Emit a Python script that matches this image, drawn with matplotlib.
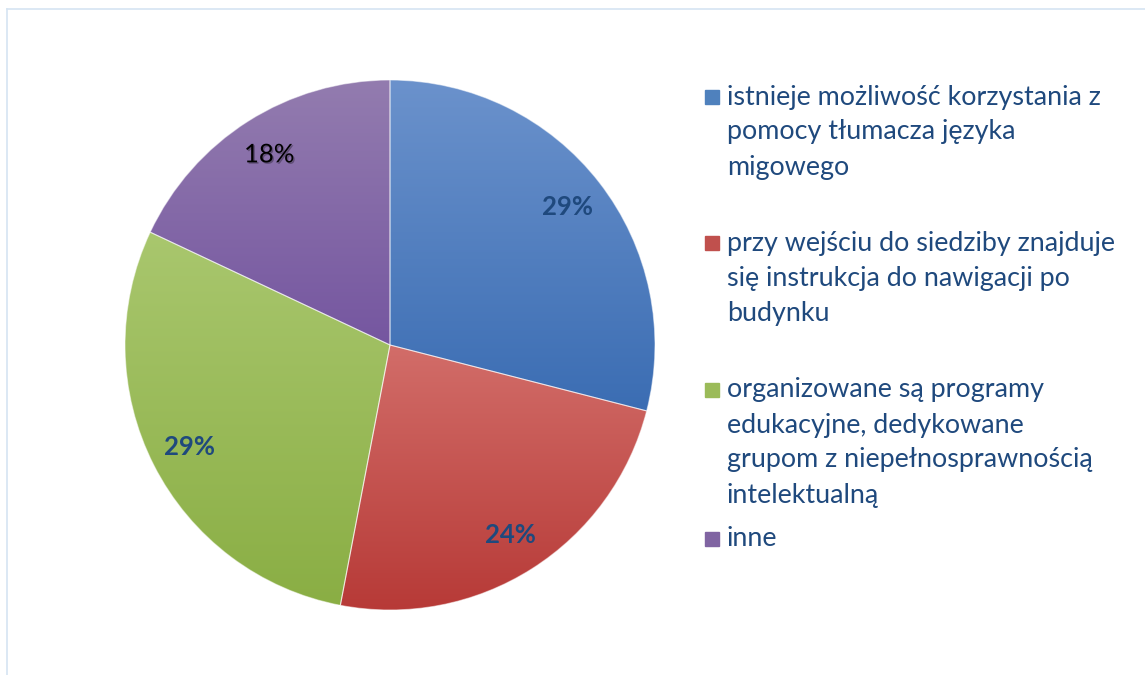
import numpy as np
import matplotlib
matplotlib.use("Agg")
import matplotlib.pyplot as plt
from matplotlib.colors import LinearSegmentedColormap
from matplotlib.lines import Line2D
import matplotlib.patheffects as pe

plt.rcParams['font.family'] = ['Lato', 'DejaVu Sans']

# dane
labels = [
    "istnieje możliwość korzystania z\npomocy tłumacza języka\nmigowego",
    "przy wejściu do siedziby znajduje\nsię instrukcja do nawigacji po\nbudynku",
    "organizowane są programy\nedukacyjne, dedykowane\ngrupom z niepełnosprawnością\nintelektualną",
    "inne",
]
values = [29, 24, 29, 18]
pct_labels = ["29%", "24%", "29%", "18%"]

# kolory (góra -> dół gradientu)
top_colors = ['#6B92CC', '#D26D69', '#A9C76E', '#937CAF']
bot_colors = ['#3B6DB3', '#B73A37', '#8AAE44', '#7556A0']
legend_colors = ['#4F81BD', '#C0504D', '#9BBB59', '#8064A2']
text_color = '#1F497D'

W, H = 1145, 675
fig = plt.figure(figsize=(W / 100, H / 100), dpi=100)

# ramka wykresu
fig.add_artist(Line2D([7 / W, 1], [1 - 9 / H, 1 - 9 / H], color='#D6E4F2', lw=1.2))
fig.add_artist(Line2D([7 / W, 7 / W], [0, 1 - 9 / H], color='#D6E4F2', lw=1.2))

cx, cy, r = 390, 345, 265
ax = fig.add_axes([(cx - r) / W, (H - cy - r) / H, 2 * r / W, 2 * r / H])
ax.set_xlim(-1, 1)
ax.set_ylim(-1, 1)
ax.axis('off')

wedges, _ = ax.pie(values, startangle=90, counterclock=False, radius=1,
                   wedgeprops=dict(edgecolor=(1, 1, 1, 0.5), linewidth=0.8))
ax.set_xlim(-1, 1)
ax.set_ylim(-1, 1)

for w, c1, c2 in zip(wedges, top_colors, bot_colors):
    w.set_facecolor('none')
    ext = w.get_path().get_extents(w.get_patch_transform())
    cmap = LinearSegmentedColormap.from_list('g', [c2, c1])
    grad = np.linspace(0, 1, 256).reshape(-1, 1)
    im = ax.imshow(grad, cmap=cmap, origin='lower', aspect='auto',
                   extent=[ext.x0, ext.x1, ext.y0, ext.y1], zorder=0.5)
    im.set_clip_path(w)

# etykiety procentowe
angle = 90.0
total = sum(values)
for v, txt in zip(values, pct_labels):
    span = 360.0 * v / total
    mid = np.deg2rad(angle - span / 2)
    angle -= span
    x, y = 0.85 * np.cos(mid), 0.85 * np.sin(mid)
    if txt == "18%":
        ax.text(x, y, txt, ha='center', va='center', fontsize=18.5, color='black',
                zorder=3, path_effects=[pe.withSimplePatchShadow(offset=(1, -1), alpha=0.3)])
    else:
        ax.text(x, y, txt, ha='center', va='center', fontsize=18.5, color=text_color,
                fontweight='bold', zorder=3)

# legenda
entry_y = [97, 243, 390, 539]
line_h = 35
for lab, col, y0 in zip(labels, legend_colors, entry_y):
    fig.add_artist(plt.Rectangle((705 / W, 1 - (y0 + 7) / H), 14 / W, 14 / H,
                                 transform=fig.transFigure, color=col))
    for i, line in enumerate(lab.split("\n")):
        fig.text(727 / W, 1 - (y0 + i * line_h) / H, line, ha='left', va='center',
                 fontsize=19.4, color=text_color)

fig.savefig("out.png", dpi=100)
